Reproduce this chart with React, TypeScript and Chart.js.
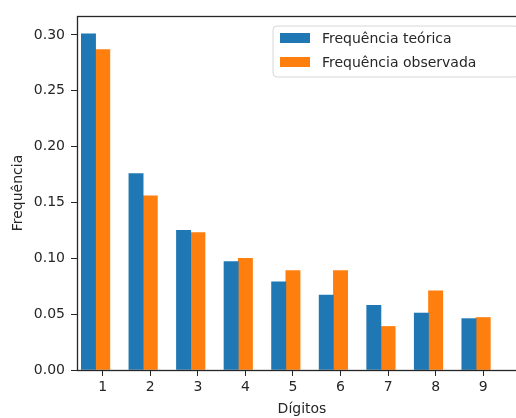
import React, { useEffect, useRef } from 'react';
import { Chart, registerables } from 'chart.js';

Chart.register(...registerables);

const digits = [1, 2, 3, 4, 5, 6, 7, 8, 9];
const theoretical = [0.301, 0.176, 0.125, 0.097, 0.079, 0.067, 0.058, 0.051, 0.046];
const observed = [0.287, 0.156, 0.123, 0.1, 0.089, 0.089, 0.039, 0.071, 0.047];
const seriesLabels = ['Frequência teórica', 'Frequência observada'];
const seriesColors = ['#1f77b4', '#ff7f0e'];
const yTicks = [0, 0.05, 0.1, 0.15, 0.2, 0.25, 0.3];
const xTitle = 'Dígitos';
const yTitle = 'Frequência';
const barOffset = 0.3; // matplotlib: bar(x - width), bar(x)

const FONT = 'DejaVu Sans';
const TEXT = '#262626';

const framePlugin = {
  id: 'frame',
  afterDatasetsDraw(chart: any) {
    const { ctx, chartArea: a } = chart;
    ctx.save();
    ctx.strokeStyle = '#262626';
    ctx.lineWidth = 1.3;
    ctx.strokeRect(a.left - 0.5, a.top + 0.5, a.right - a.left, a.bottom - a.top);
    ctx.restore();
  },
};

const legendPlugin = {
  id: 'mplLegend',
  afterDraw(chart: any) {
    const { ctx, chartArea: a } = chart;
    const left = a.left + 195;
    const top = a.top + 10;
    const right = a.right - 7;
    const bottom = top + 51;
    const r = 4;
    ctx.save();
    ctx.beginPath();
    ctx.moveTo(left + r, top);
    ctx.lineTo(right - r, top);
    ctx.arcTo(right, top, right, top + r, r);
    ctx.lineTo(right, bottom - r);
    ctx.arcTo(right, bottom, right - r, bottom, r);
    ctx.lineTo(left + r, bottom);
    ctx.arcTo(left, bottom, left, bottom - r, r);
    ctx.lineTo(left, top + r);
    ctx.arcTo(left, top, left + r, top, r);
    ctx.closePath();
    ctx.fillStyle = 'rgba(255,255,255,0.8)';
    ctx.fill();
    ctx.strokeStyle = '#d6d6d6';
    ctx.lineWidth = 1;
    ctx.stroke();
    ctx.font = `14px "${FONT}"`;
    ctx.textBaseline = 'middle';
    ctx.fillStyle = TEXT;
    chart.data.datasets.forEach((ds: any, i: number) => {
      const cy = top + 12 + i * 24;
      ctx.fillStyle = ds.backgroundColor;
      ctx.fillRect(left + 7, cy - 5, 30, 10);
      ctx.fillStyle = TEXT;
      ctx.fillText(ds.label, left + 49, cy + 1);
    });
    ctx.restore();
  },
};

export default function App() {
  const ref = useRef<HTMLCanvasElement>(null);

  useEffect(() => {
    if (!ref.current) return;
    const chart = new Chart(ref.current, {
      type: 'bar',
      data: {
        datasets: [
          {
            label: seriesLabels[0],
            data: digits.map((d, i) => ({ x: d - barOffset, y: theoretical[i] })),
            backgroundColor: seriesColors[0],
          },
          {
            label: seriesLabels[1],
            data: digits.map((d, i) => ({ x: d, y: observed[i] })),
            backgroundColor: seriesColors[1],
          },
        ],
      },
      options: {
        responsive: false,
        animation: false,
        events: [],
        layout: { padding: { top: 16, right: 14, left: 0, bottom: 0 } },
        datasets: {
          bar: {
            grouped: false,
            barPercentage: 1,
            categoryPercentage: 1,
            borderWidth: 0,
          },
        },
        plugins: {
          legend: { display: false },
          tooltip: { enabled: false },
        },
        scales: {
          x: {
            type: 'linear',
            offset: false,
            min: 0.48,
            max: 9.9,
            afterBuildTicks: (s: any) => {
              s.ticks = digits.map((v) => ({ value: v }));
            },
            afterFit: (s: any) => {
              s.height = 48;
            },
            ticks: {
              font: { family: FONT, size: 14 },
              color: TEXT,
              padding: 3,
              maxRotation: 0,
              autoSkip: false,
              callback: (v: any) => String(v),
            },
            grid: {
              offset: false,
              drawOnChartArea: false,
              drawTicks: true,
              tickLength: 6,
              color: '#262626',
            },
            border: { display: false },
            title: {
              display: true,
              text: xTitle,
              font: { family: FONT, size: 14 },
              color: TEXT,
              padding: { top: 0, bottom: 0 },
            },
          },
          y: {
            type: 'linear',
            min: 0,
            max: 0.317,
            afterBuildTicks: (s: any) => {
              s.ticks = yTicks.map((v) => ({ value: v }));
            },
            afterFit: (s: any) => {
              s.width = 78;
            },
            ticks: {
              font: { family: FONT, size: 14 },
              color: TEXT,
              padding: 6,
              callback: (v: any) => Number(v).toFixed(2),
            },
            grid: {
              drawOnChartArea: false,
              drawTicks: true,
              tickLength: 7,
              color: '#262626',
            },
            border: { display: false },
            title: {
              display: true,
              text: yTitle,
              font: { family: FONT, size: 14 },
              color: TEXT,
              padding: { top: 10, bottom: 0 },
            },
          },
        },
      } as any,
      plugins: [framePlugin, legendPlugin],
    });
    return () => chart.destroy();
  }, []);

  return (
    <div
      style={{
        position: 'fixed',
        left: 0,
        top: 0,
        width: 516,
        height: 418,
        overflow: 'hidden',
        background: '#fff',
      }}
    >
      <canvas ref={ref} width={540} height={418} style={{ display: 'block' }} />
    </div>
  );
}
